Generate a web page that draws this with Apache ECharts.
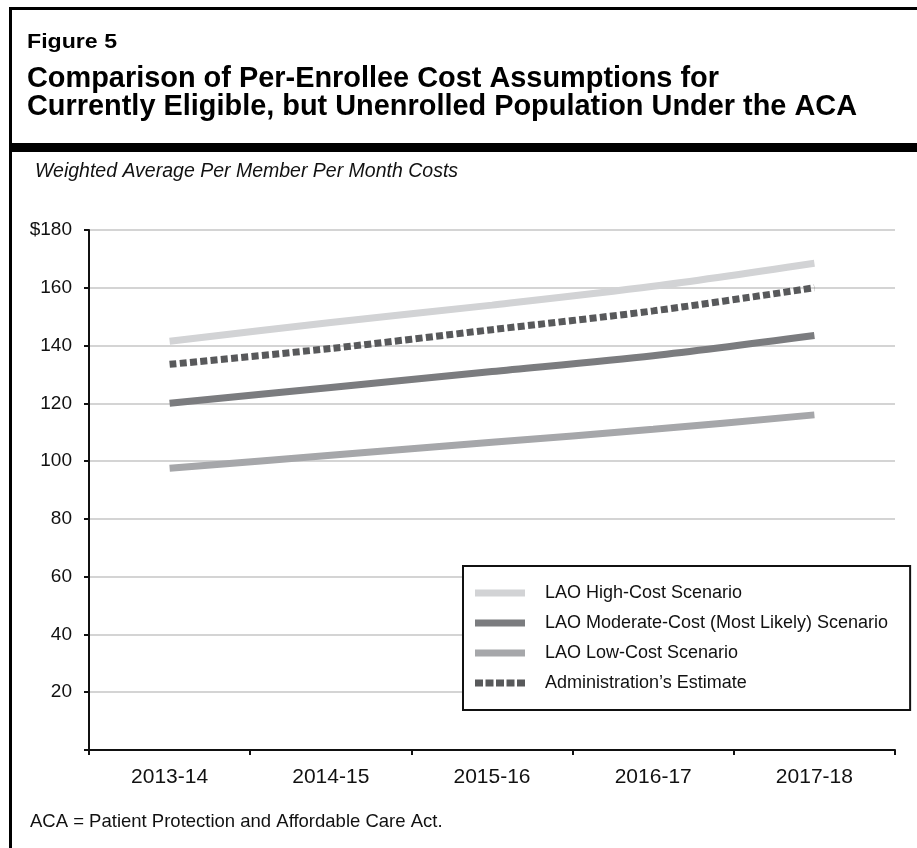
<!DOCTYPE html>
<html>
<head>
<meta charset="utf-8">
<title>Figure 5</title>
<script src="https://cdn.jsdelivr.net/npm/echarts@6/dist/echarts.min.js"></script>
<style>
  html, body { margin: 0; padding: 0; background: #fff; }
</style>
</head>
<body>
<div id="container" style="width: 917px; height: 848px;"></div>
<script>
var years = ['2013-14', '2014-15', '2015-16', '2016-17', '2017-18'];
var yTicks = [0, 20, 40, 60, 80, 100, 120, 140, 160, 180];

var highCost = [141.5, 148, 154, 160.5, 168.5];
var moderateCost = [120, 125.5, 131, 136.5, 143.5];
var lowCost = [97.5, 102, 106.5, 111, 116];
var adminEstimate = [133.5, 139, 145.5, 152, 160];

var sans = '"Liberation Sans", Arial, sans-serif';
var titleFont = 'bold 29px ' + sans;
var figFont = 'bold 21px ' + sans;

// squeeze the bold heading so it looks like the condensed face of the original
function squeeze(text, font, targetWidth) {
  var ctx = document.createElement('canvas').getContext('2d');
  ctx.font = font;
  return targetWidth / ctx.measureText(text).width;
}
var titleLine1 = 'Comparison of Per-Enrollee Cost Assumptions for';
var titleLine2 = 'Currently Eligible, but Unenrolled Population Under the ACA';
var titleScale = squeeze(titleLine2, titleFont, 830);
var figScale = squeeze('Figure 5', figFont, 90);

// legend swatches: a solid bar, and a row of squares for the dotted series
var solidIcon = 'path://M0,0H50V7H0Z';
var dottedIcon = 'path://M0,0h8v7h-8z M10.5,0h8v7h-8z M21,0h8v7h-8z M31.5,0h8v7h-8z M42,0h8v7h-8z';

var chart = echarts.init(document.getElementById('container'));

var option = {
  backgroundColor: '#fff',
  animation: false,
  graphic: [
    // outer frame (runs past the right and bottom edges)
    { type: 'rect', shape: { x: 10.5, y: 8.5, width: 1000, height: 1000 },
      style: { fill: 'none', stroke: '#000', lineWidth: 3 } },
    // heavy rule under the heading
    { type: 'rect', shape: { x: 10, y: 143, width: 910, height: 9 },
      style: { fill: '#000' } },
    { type: 'text', x: 27, y: 42, scaleX: figScale,
      style: { text: 'Figure 5', font: figFont, fill: '#000', textVerticalAlign: 'middle' } },
    { type: 'text', x: 27, y: 79, scaleX: titleScale,
      style: { text: titleLine1, font: titleFont, fill: '#000', textVerticalAlign: 'middle' } },
    { type: 'text', x: 27, y: 107, scaleX: titleScale,
      style: { text: titleLine2, font: titleFont, fill: '#000', textVerticalAlign: 'middle' } },
    { type: 'text', x: 35, y: 172,
      style: { text: 'Weighted Average Per Member Per Month Costs', font: 'italic 19.5px ' + sans, fill: '#111', textVerticalAlign: 'middle' } },
    { type: 'text', x: 30, y: 822,
      style: { text: 'ACA = Patient Protection and Affordable Care Act.', font: '18.5px ' + sans, fill: '#111', textVerticalAlign: 'middle' } }
  ],
  grid: {
    left: 89,
    right: 22,
    top: 230,
    bottom: 98
  },
  legend: {
    orient: 'vertical',
    left: 463,
    top: 566,
    padding: [18, 22, 18, 12],
    itemWidth: 50,
    itemHeight: 16,
    itemGap: 12,
    symbolKeepAspect: true,
    backgroundColor: '#fff',
    borderColor: '#111',
    borderWidth: 2,
    borderRadius: 0,
    textStyle: {
      fontFamily: sans,
      fontSize: 18,
      color: '#111',
      padding: [0, 0, 0, 15]
    },
    data: [
      { name: 'LAO High-Cost Scenario', icon: solidIcon },
      { name: 'LAO Moderate-Cost (Most Likely) Scenario', icon: solidIcon },
      { name: 'LAO Low-Cost Scenario', icon: solidIcon },
      { name: 'Administration\u2019s Estimate', icon: dottedIcon }
    ]
  },
  xAxis: {
    type: 'category',
    data: years,
    boundaryGap: true,
    axisLine: { show: true, lineStyle: { color: '#111', width: 2 } },
    axisTick: { show: true, length: 5, lineStyle: { color: '#111', width: 2 } },
    axisLabel: { margin: 17, fontFamily: sans, fontSize: 21, color: '#111' },
    splitLine: { show: false }
  },
  yAxis: {
    type: 'value',
    min: yTicks[0],
    max: yTicks[yTicks.length - 1],
    interval: 20,
    axisLine: { show: true, lineStyle: { color: '#111', width: 2 } },
    axisTick: { show: true, length: 5, lineStyle: { color: '#111', width: 2 } },
    axisLabel: {
      margin: 17,
      fontFamily: sans,
      fontSize: 19,
      color: '#111',
      formatter: function (v) {
        if (v === 0) return '';
        if (v === 180) return '$' + v;
        return '' + v;
      }
    },
    splitLine: { show: true, lineStyle: { color: '#d4d4d4', width: 2 } }
  },
  series: [
    {
      name: 'LAO High-Cost Scenario',
      type: 'line',
      data: highCost,
      smooth: 0.3,
      symbol: 'none',
      lineStyle: { color: '#d2d3d5', width: 7, cap: 'butt' },
      itemStyle: { color: '#d2d3d5' },
      z: 3
    },
    {
      name: 'LAO Moderate-Cost (Most Likely) Scenario',
      type: 'line',
      data: moderateCost,
      smooth: 0.3,
      symbol: 'none',
      lineStyle: { color: '#7b7c7f', width: 7, cap: 'butt' },
      itemStyle: { color: '#7b7c7f' },
      z: 3
    },
    {
      name: 'LAO Low-Cost Scenario',
      type: 'line',
      data: lowCost,
      smooth: 0.3,
      symbol: 'none',
      lineStyle: { color: '#a6a7aa', width: 7, cap: 'butt' },
      itemStyle: { color: '#a6a7aa' },
      z: 3
    },
    {
      name: 'Administration\u2019s Estimate',
      type: 'line',
      data: adminEstimate,
      smooth: 0.3,
      symbol: 'none',
      lineStyle: { color: '#58595b', width: 7, type: [7, 3.3], cap: 'butt' },
      itemStyle: { color: '#58595b' },
      z: 4
    }
  ]
};

chart.setOption(option);
</script>
</body>
</html>
